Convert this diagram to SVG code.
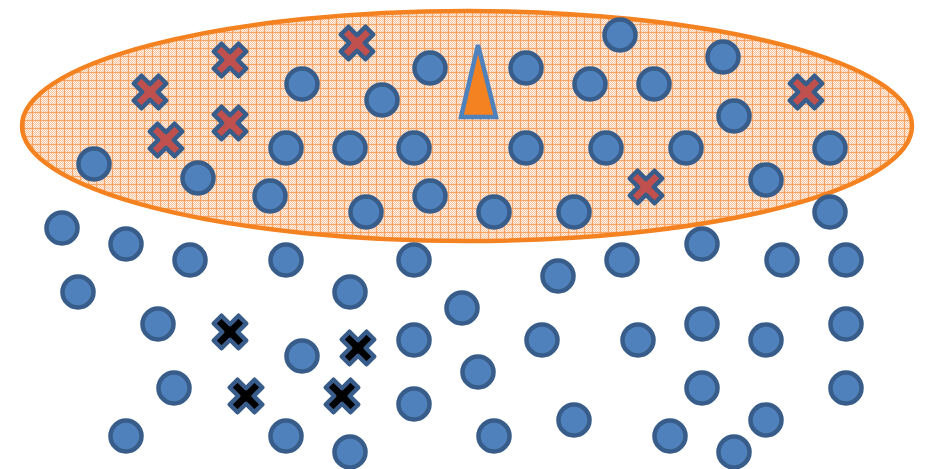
<svg xmlns="http://www.w3.org/2000/svg" xmlns:xlink="http://www.w3.org/1999/xlink" width="925" height="469" viewBox="0 0 925 469">
<style>
.dot{fill:#4F81BD;stroke:#385D8A;stroke-width:4.5}
.xr{fill:#C0504D;stroke:#385D8A;stroke-width:4.5;stroke-linejoin:round}
.xb{fill:#000000;stroke:#385D8A;stroke-width:4.5;stroke-linejoin:round}
</style>
<defs>
<pattern id="chk" width="2" height="2" patternUnits="userSpaceOnUse">
<rect width="2" height="2" fill="#FEF3EA"/>
<rect width="1" height="1" fill="#FAC59E"/>
<rect x="1" y="1" width="1" height="1" fill="#FAC59E"/>
</pattern>
<pattern id="grid" width="8" height="8" patternUnits="userSpaceOnUse">
<rect width="8" height="8" fill="url(#chk)"/>
<rect width="8" height="1" fill="#F6A364"/>
<rect width="1" height="8" fill="#F6A364"/>
</pattern>
<path id="cross" d="M-5.5,-17.5 L5.5,-17.5 L5.5,-5.5 L17.5,-5.5 L17.5,5.5 L5.5,5.5 L5.5,17.5 L-5.5,17.5 L-5.5,5.5 L-17.5,5.5 L-17.5,-5.5 L-5.5,-5.5 Z" transform="rotate(45)"/>
</defs>
<rect width="925" height="469" fill="#FFFFFF"/>
<g id="region">
<ellipse cx="467" cy="126" rx="445" ry="115" fill="url(#grid)" stroke="#F58220" stroke-width="4.5"/>
</g>
<g id="connectors"/>
<g id="nodes">
<g id="in1"><circle class="dot" cx="94" cy="164" r="15.5"/></g>
<g id="in2"><circle class="dot" cx="198" cy="178" r="15.5"/></g>
<g id="in3"><circle class="dot" cx="270" cy="196" r="15.5"/></g>
<g id="in4"><circle class="dot" cx="286" cy="148" r="15.5"/></g>
<g id="in5"><circle class="dot" cx="302" cy="84" r="15.5"/></g>
<g id="in6"><circle class="dot" cx="350" cy="148" r="15.5"/></g>
<g id="in7"><circle class="dot" cx="382" cy="100" r="15.5"/></g>
<g id="in8"><circle class="dot" cx="366" cy="212" r="15.5"/></g>
<g id="in9"><circle class="dot" cx="414" cy="148" r="15.5"/></g>
<g id="in10"><circle class="dot" cx="430" cy="68" r="15.5"/></g>
<g id="in11"><circle class="dot" cx="430" cy="196" r="15.5"/></g>
<g id="in12"><circle class="dot" cx="494" cy="212" r="15.5"/></g>
<g id="in13"><circle class="dot" cx="526" cy="68" r="15.5"/></g>
<g id="in14"><circle class="dot" cx="526" cy="148" r="15.5"/></g>
<g id="in15"><circle class="dot" cx="574" cy="212" r="15.5"/></g>
<g id="in16"><circle class="dot" cx="590" cy="84" r="15.5"/></g>
<g id="in17"><circle class="dot" cx="606" cy="148" r="15.5"/></g>
<g id="in18"><circle class="dot" cx="620" cy="35" r="15.5"/></g>
<g id="in19"><circle class="dot" cx="654" cy="84" r="15.5"/></g>
<g id="in20"><circle class="dot" cx="686" cy="148" r="15.5"/></g>
<g id="in21"><circle class="dot" cx="723" cy="57" r="15.5"/></g>
<g id="in22"><circle class="dot" cx="734" cy="116" r="15.5"/></g>
<g id="in23"><circle class="dot" cx="766" cy="180" r="15.5"/></g>
<g id="in24"><circle class="dot" cx="830" cy="148" r="15.5"/></g>

<g id="out1"><circle class="dot" cx="62" cy="228" r="15.5"/></g>
<g id="out2"><circle class="dot" cx="126" cy="244" r="15.5"/></g>
<g id="out3"><circle class="dot" cx="190" cy="260" r="15.5"/></g>
<g id="out4"><circle class="dot" cx="78" cy="292" r="15.5"/></g>
<g id="out5"><circle class="dot" cx="158" cy="324" r="15.5"/></g>
<g id="out6"><circle class="dot" cx="174" cy="388" r="15.5"/></g>
<g id="out7"><circle class="dot" cx="126" cy="436" r="15.5"/></g>
<g id="out8"><circle class="dot" cx="286" cy="260" r="15.5"/></g>
<g id="out9"><circle class="dot" cx="302" cy="356" r="15.5"/></g>
<g id="out10"><circle class="dot" cx="286" cy="436" r="15.5"/></g>
<g id="out11"><circle class="dot" cx="350" cy="292" r="15.5"/></g>
<g id="out12"><circle class="dot" cx="350" cy="452" r="15.5"/></g>
<g id="out13"><circle class="dot" cx="414" cy="260" r="15.5"/></g>
<g id="out14"><circle class="dot" cx="414" cy="340" r="15.5"/></g>
<g id="out15"><circle class="dot" cx="414" cy="404" r="15.5"/></g>
<g id="out16"><circle class="dot" cx="462" cy="308" r="15.5"/></g>
<g id="out17"><circle class="dot" cx="478" cy="372" r="15.5"/></g>
<g id="out18"><circle class="dot" cx="494" cy="436" r="15.5"/></g>
<g id="out19"><circle class="dot" cx="542" cy="340" r="15.5"/></g>
<g id="out20"><circle class="dot" cx="558" cy="276" r="15.5"/></g>
<g id="out21"><circle class="dot" cx="574" cy="420" r="15.5"/></g>
<g id="out22"><circle class="dot" cx="622" cy="260" r="15.5"/></g>
<g id="out23"><circle class="dot" cx="638" cy="340" r="15.5"/></g>
<g id="out24"><circle class="dot" cx="670" cy="436" r="15.5"/></g>
<g id="out25"><circle class="dot" cx="702" cy="244" r="15.5"/></g>
<g id="out26"><circle class="dot" cx="702" cy="324" r="15.5"/></g>
<g id="out27"><circle class="dot" cx="702" cy="388" r="15.5"/></g>
<g id="out28"><circle class="dot" cx="734" cy="452" r="15.5"/></g>
<g id="out29"><circle class="dot" cx="766" cy="340" r="15.5"/></g>
<g id="out30"><circle class="dot" cx="766" cy="420" r="15.5"/></g>
<g id="out31"><circle class="dot" cx="782" cy="260" r="15.5"/></g>
<g id="out32"><circle class="dot" cx="830" cy="212" r="15.5"/></g>
<g id="out33"><circle class="dot" cx="846" cy="260" r="15.5"/></g>
<g id="out34"><circle class="dot" cx="846" cy="324" r="15.5"/></g>
<g id="out35"><circle class="dot" cx="846" cy="388" r="15.5"/></g>

<g id="xr1" transform="translate(150,92)"><use xlink:href="#cross" class="xr"/></g>
<g id="xr2" transform="translate(230,60)"><use xlink:href="#cross" class="xr"/></g>
<g id="xr3" transform="translate(357,43)"><use xlink:href="#cross" class="xr"/></g>
<g id="xr4" transform="translate(166,140)"><use xlink:href="#cross" class="xr"/></g>
<g id="xr5" transform="translate(230,123)"><use xlink:href="#cross" class="xr"/></g>
<g id="xr6" transform="translate(646,187)"><use xlink:href="#cross" class="xr"/></g>
<g id="xr7" transform="translate(806,92)"><use xlink:href="#cross" class="xr"/></g>

<g id="xb1" transform="translate(230,332)"><use xlink:href="#cross" class="xb"/></g>
<g id="xb2" transform="translate(358,348)"><use xlink:href="#cross" class="xb"/></g>
<g id="xb3" transform="translate(246,396)"><use xlink:href="#cross" class="xb"/></g>
<g id="xb4" transform="translate(342,396)"><use xlink:href="#cross" class="xb"/></g>

<g id="query"><polygon points="478,45 461,117 496,117" fill="#F58220" stroke="#4F81BD" stroke-width="4.5"/></g>
</g>
</svg>
